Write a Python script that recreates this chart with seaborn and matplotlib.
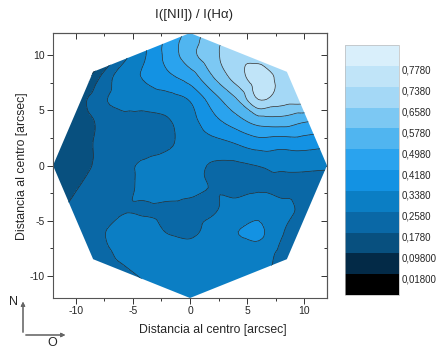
import numpy as np
import matplotlib
matplotlib.use("Agg")
import matplotlib.pyplot as plt
import matplotlib.tri as mtri
import seaborn as sns
from matplotlib.colors import ListedColormap, BoundaryNorm
from matplotlib.patches import Polygon
from matplotlib.ticker import MultipleLocator

# grid positions (arcsec) of the sampled line-ratio map
grid_x = [-12, -10, -8, -6, -4, -2, 0, 2, 4, 6, 8, 10, 12]
grid_y = [12, 10, 8, 6, 4, 2, 0, -2, -4, -6, -8, -10, -12]

# I([NII]) / I(Ha), one row per grid_y value
ratio_y12 = [0.00, 0.00, 0.10, 0.22, 0.33, 0.43, 0.53, 0.62, 0.68, 0.69, 0.67, 0.64, 0.60]
ratio_y10 = [0.00, 0.00, 0.02, 0.22, 0.33, 0.44, 0.55, 0.635, 0.70, 0.71, 0.69, 0.66, 0.62]
ratio_y8 = [0.00, 0.00, 0.17, 0.30, 0.345, 0.40, 0.455, 0.575, 0.69, 0.775, 0.715, 0.66, 0.60]
ratio_y6 = [0.05, 0.12, 0.235, 0.28, 0.29, 0.305, 0.345, 0.46, 0.57, 0.74, 0.695, 0.68, 0.60]
ratio_y4 = [0.10, 0.12, 0.19, 0.235, 0.235, 0.25, 0.31, 0.39, 0.46, 0.53, 0.54, 0.505, 0.48]
ratio_y2 = [0.12, 0.14, 0.19, 0.21, 0.22, 0.245, 0.29, 0.315, 0.34, 0.38, 0.37, 0.375, 0.36]
ratio_y0 = [0.13, 0.15, 0.19, 0.235, 0.27, 0.29, 0.285, 0.25, 0.245, 0.26, 0.275, 0.275, 0.27]
ratio_ym2 = [0.15, 0.175, 0.20, 0.23, 0.275, 0.295, 0.28, 0.255, 0.235, 0.25, 0.235, 0.235, 0.23]
ratio_ym4 = [0.17, 0.19, 0.215, 0.25, 0.25, 0.24, 0.235, 0.25, 0.29, 0.31, 0.285, 0.24, 0.22]
ratio_ym6 = [0.19, 0.21, 0.245, 0.285, 0.29, 0.255, 0.24, 0.29, 0.335, 0.355, 0.265, 0.22, 0.20]
ratio_ym8 = [0.19, 0.21, 0.235, 0.27, 0.30, 0.30, 0.30, 0.31, 0.31, 0.30, 0.24, 0.21, 0.19]
ratio_ym10 = [0.18, 0.20, 0.22, 0.24, 0.265, 0.285, 0.295, 0.30, 0.295, 0.265, 0.23, 0.20, 0.18]
ratio_ym12 = [0.17, 0.19, 0.21, 0.225, 0.24, 0.25, 0.27, 0.285, 0.28, 0.255, 0.22, 0.19, 0.17]

# contour levels and their colorbar labels
levels = [0.018, 0.098, 0.178, 0.258, 0.338, 0.418, 0.498, 0.578, 0.658, 0.738, 0.778]
level_labels = ["0,01800", "0,09800", "0,1780", "0,2580", "0,3380", "0,4180",
                "0,4980", "0,5780", "0,6580", "0,7380", "0,7780"]
band_colors = ["#000000", "#032a47", "#08507f", "#0a68a6", "#0b7ec4", "#1392e3",
               "#2aa3ee", "#50b5f0", "#7cc8f3", "#a4d8f6", "#c0e4f8", "#d9effb"]

sns.set_theme(style="ticks")
plt.rcParams["font.family"] = ["Liberation Sans", "DejaVu Sans"]
plt.rcParams["axes.unicode_minus"] = False

fig = plt.figure(figsize=(4.43, 3.51), dpi=100)
ax = fig.add_axes([53 / 443, 1 - 298 / 351, 274 / 443, 265 / 351])
cax = fig.add_axes([345 / 443, 1 - 295 / 351, 54 / 443, 250 / 351])

Z = np.array([ratio_y12, ratio_y10, ratio_y8, ratio_y6, ratio_y4, ratio_y2, ratio_y0,
              ratio_ym2, ratio_ym4, ratio_ym6, ratio_ym8, ratio_ym10, ratio_ym12])
X, Y = np.meshgrid(grid_x, grid_y)

# smooth (cubic) rendering of the sampled grid, done by matplotlib's tri tools
tri = mtri.Triangulation(X.ravel(), Y.ravel())
interp = mtri.CubicTriInterpolator(tri, Z.ravel(), kind="geom")
tri_fine, z_fine = mtri.UniformTriRefiner(tri).refine_field(Z.ravel(), triinterpolator=interp, subdiv=3)

bounds = [-1.0] + levels + [2.0]
cmap = ListedColormap(band_colors)
norm = BoundaryNorm(bounds, cmap.N)

filled = ax.tricontourf(tri_fine, z_fine, levels=bounds, cmap=cmap, norm=norm)
lines = ax.tricontour(tri_fine, z_fine, levels=levels, colors="#2b2b2b", linewidths=0.5)

# octagonal field of view
r = 12
octagon_verts = [(r * np.cos(np.deg2rad(a)), r * np.sin(np.deg2rad(a))) for a in range(0, 360, 45)]
fov = Polygon(octagon_verts, closed=True, transform=ax.transData, facecolor="none", edgecolor="none")
filled.set_clip_path(fov)
lines.set_clip_path(fov)

ax.set_xlim(-12, 12)
ax.set_ylim(-12, 12)
ax.set_xticks([-10, -5, 0, 5, 10])
ax.set_yticks([-10, -5, 0, 5, 10])
ax.xaxis.set_minor_locator(MultipleLocator(2.5))
ax.yaxis.set_minor_locator(MultipleLocator(2.5))
ax.tick_params(which="both", direction="out", labelsize=7.5, width=0.7, color="#333333", pad=2)
ax.tick_params(which="major", length=4)
ax.tick_params(which="minor", length=2.5)
for sp in ax.spines.values():
    sp.set_linewidth(0.8)
    sp.set_color("#555555")

# Origin style: inner ticks on the top and right
sx = ax.secondary_xaxis("top")
sx.set_xticks([-10, -5, 0, 5, 10])
sx.xaxis.set_minor_locator(MultipleLocator(2.5))
sx.tick_params(which="both", direction="in", labeltop=False, width=0.7, color="#333333")
sx.tick_params(which="major", length=4)
sx.tick_params(which="minor", length=2.5)
sy = ax.secondary_yaxis("right")
sy.set_yticks([-10, -5, 0, 5, 10])
sy.yaxis.set_minor_locator(MultipleLocator(2.5))
sy.tick_params(which="both", direction="in", labelright=False, width=0.7, color="#333333")
sy.tick_params(which="major", length=4)
sy.tick_params(which="minor", length=2.5)
for s in (sx, sy):
    for sp in s.spines.values():
        sp.set_linewidth(0.8)
        sp.set_color("#555555")

cb = fig.colorbar(filled, cax=cax, spacing="uniform", ticks=levels)
cb.set_ticklabels(level_labels)
cax.minorticks_off()
cax.tick_params(which="both", length=0, labelsize=7, pad=2)
for t in cax.get_yticklabels():
    t.set_verticalalignment("top")
cb.outline.set_edgecolor("#bbbbbb")
cb.outline.set_linewidth(0.5)

fig.text(194 / 443, 1 - 15 / 351, "I([NII]) / I(H\u03b1)", ha="center", va="center", fontsize=9.5)
fig.text(213 / 443, 1 - 330 / 351, "Distancia al centro [arcsec]", ha="center", va="center", fontsize=8.8)
fig.text(22 / 443, 1 - 166 / 351, "Distancia al centro [arcsec]", ha="center", va="center",
         rotation=90, fontsize=8.8)

# compass
x0, y0 = 23 / 443, 1 - 335 / 351
arrow = dict(arrowstyle="-|>", color="#666666", lw=0.8, mutation_scale=6)
fig.add_artist(plt.annotate("", xy=(x0, 1 - 299 / 351), xytext=(x0, y0),
                            xycoords="figure fraction", arrowprops=arrow))
fig.add_artist(plt.annotate("", xy=(68 / 443, y0), xytext=(x0, y0),
                            xycoords="figure fraction", arrowprops=arrow))
fig.text(14 / 443, 1 - 302 / 351, "N", ha="center", va="center", fontsize=9)
fig.text(52 / 443, 1 - 343 / 351, "O", ha="center", va="center", fontsize=9)

fig.savefig("out.png", dpi=100)
